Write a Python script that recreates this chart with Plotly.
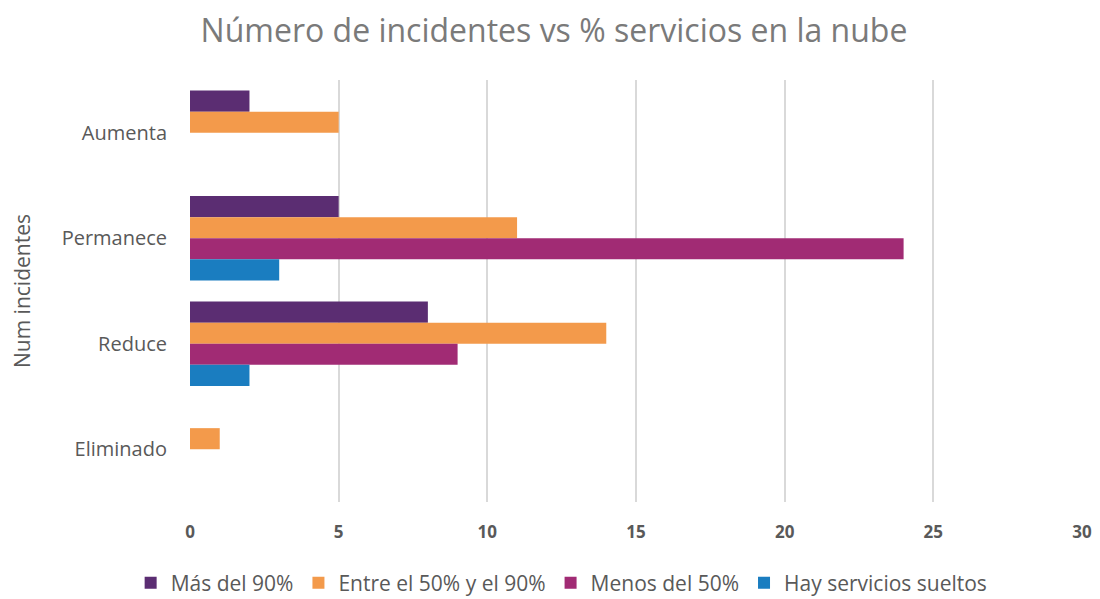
import plotly.graph_objects as go

categories = ["Aumenta", "Permanece", "Reduce", "Eliminado"]
series_names = ["Más del 90%", "Entre el 50% y el 90%", "Menos del 50%", "Hay servicios sueltos"]
mas_90 = [2, 5, 8, 0]
entre_50_90 = [5, 11, 14, 1]
menos_50 = [0, 24, 9, 0]
sueltos = [0, 3, 2, 0]
x_ticks = [0, 5, 10, 15, 20, 25, 30]

values = [mas_90, entre_50_90, menos_50, sueltos]
colors = ["#5B2D72", "#F39A4B", "#A12B74", "#1A7DC0"]

FONT = "Open Sans"
fig = go.Figure()
for name, vals, col in zip(series_names, values, colors):
    fig.add_trace(go.Bar(
        y=categories, x=vals, name=name, orientation="h",
        marker=dict(color=col, line=dict(width=0)),
    ))

# page body has an 8px default margin, so the figure is 8px smaller
fig.update_layout(
    width=1092, height=591,
    barmode="group", bargap=0.2, bargroupgap=0,
    paper_bgcolor="white", plot_bgcolor="white",
    margin=dict(l=182, r=18, t=72, b=97, autoexpand=False),
    title=dict(text="Número de incidentes vs % servicios en la nube",
               x=0.5, xanchor="center", y=0.962, yanchor="middle",
               font=dict(family=FONT, size=32, color="#7A7A7A")),
    font=dict(family=FONT, color="#595959"),
    legend=dict(orientation="h", xref="container", x=0.507, xanchor="center",
                y=-0.192, yanchor="middle",
                traceorder="normal", font=dict(family=FONT, size=21, color="#595959"),
                itemwidth=30, entrywidth=0),
    xaxis=dict(range=[0, 30], tickvals=x_ticks, showgrid=True, gridcolor="#D9D9D9",
               gridwidth=2, zeroline=False, showline=False, automargin=False,
               tickfont=dict(family=FONT, size=17, color="#595959", weight="bold"),
               ticks="", ticklabelstandoff=18),
    yaxis=dict(autorange=False, range=[3.5, -0.5], showgrid=False, zeroline=False,
               showline=False, ticks="", ticklabelstandoff=22, automargin=False,
               tickfont=dict(family=FONT, size=20, color="#595959"),
               title=dict(text="Num incidentes", standoff=27,
                          font=dict(family=FONT, size=21, color="#595959"))),
)

fig.write_html("out.html")
